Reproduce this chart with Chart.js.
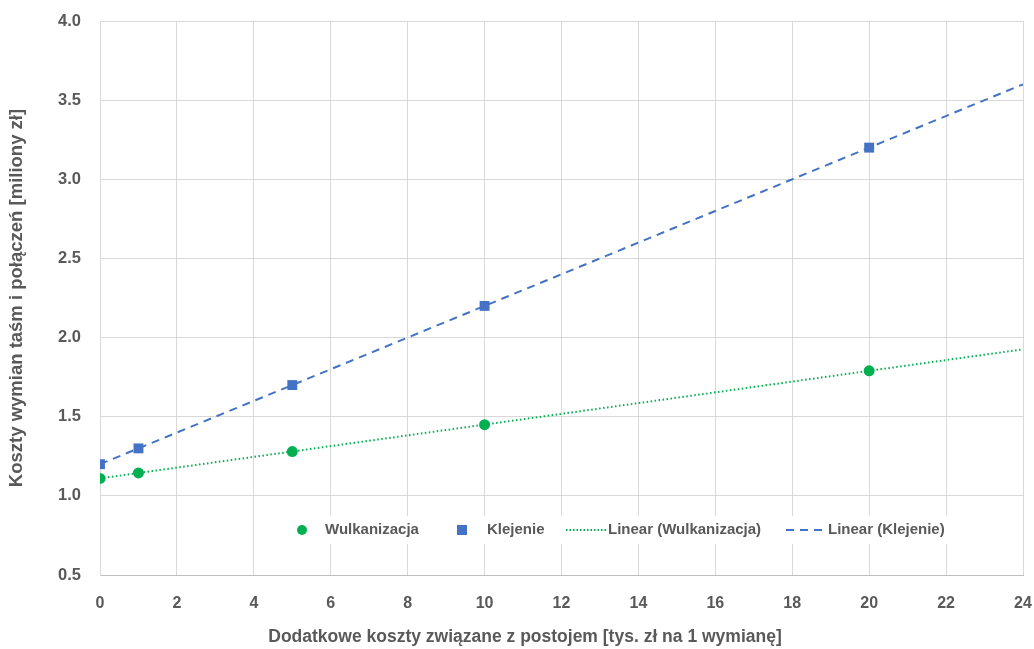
<!DOCTYPE html>
<html>
<head>
<meta charset="utf-8">
<script src="https://cdn.jsdelivr.net/npm/chart.js@4"></script>
<style>
  html, body { margin: 0; padding: 0; background: #fff; }
  #wrap { width: 1034px; height: 649px; }
</style>
</head>
<body>
<div id="wrap"><canvas id="c" width="1034" height="649"></canvas></div>
<script>
// Downtime cost per replacement [thousand zł]
const downtimeCost = [0, 1, 5, 10, 20];
// Total cost of belt and splice replacements [million zł]
const vulcanizing = [1.11, 1.145, 1.28, 1.45, 1.79];
const gluing = [1.2, 1.3, 1.7, 2.2, 3.2];
const xTicks = [0, 2, 4, 6, 8, 10, 12, 14, 16, 18, 20, 22, 24];
const yTicks = [0.5, 1.0, 1.5, 2.0, 2.5, 3.0, 3.5, 4.0];
const xTitle = 'Dodatkowe koszty związane z postojem [tys. zł na 1 wymianę]';
const yTitle = 'Koszty wymian taśm i połączeń [miliony zł]';

const GREEN = '#00B050';
const BLUE = '#4472C4';
const TEXT = '#595959';
const FONT = "'Liberation Sans', Arial, sans-serif";

// least-squares trend line evaluated at the ends of the x axis
function trend(xs, ys, x0, x1) {
  const n = xs.length;
  const mx = xs.reduce((a, b) => a + b, 0) / n;
  const my = ys.reduce((a, b) => a + b, 0) / n;
  let sxy = 0, sxx = 0;
  xs.forEach((x, i) => { sxy += (x - mx) * (ys[i] - my); sxx += (x - mx) * (x - mx); });
  const b = sxy / sxx, a = my - b * mx;
  return [{ x: x0, y: a + b * x0 }, { x: x1, y: a + b * x1 }];
}
const pts = (xs, ys) => xs.map((x, i) => ({ x, y: ys[i] }));

const xMin = xTicks[0], xMax = xTicks[xTicks.length - 1];

// legend drawn inside the plot area, plus the x axis caption centred on the page
const innerLegend = {
  id: 'innerLegend',
  afterDraw(chart) {
    const ctx = chart.ctx;
    const y = 530;
    ctx.save();
    ctx.fillStyle = '#fff';
    ctx.fillRect(287, 516, 672, 28);
    ctx.font = "bold 15px " + FONT;
    ctx.textBaseline = 'middle';
    // circle
    ctx.beginPath(); ctx.arc(302, y, 5, 0, Math.PI * 2); ctx.fillStyle = GREEN; ctx.fill();
    ctx.fillStyle = TEXT; ctx.fillText('Wulkanizacja', 325, y);
    // square
    ctx.fillStyle = BLUE; ctx.fillRect(457, y - 5, 10, 10);
    ctx.fillStyle = TEXT; ctx.fillText('Klejenie', 487, y);
    // dotted line
    ctx.lineWidth = 2;
    ctx.strokeStyle = GREEN; ctx.setLineDash([1.5, 2]);
    ctx.beginPath(); ctx.moveTo(566, y); ctx.lineTo(606, y); ctx.stroke();
    ctx.fillStyle = TEXT; ctx.fillText('Linear (Wulkanizacja)', 608, y);
    // dashed line
    ctx.strokeStyle = BLUE; ctx.setLineDash([8, 6]);
    ctx.beginPath(); ctx.moveTo(786, y); ctx.lineTo(826, y); ctx.stroke();
    ctx.fillStyle = TEXT; ctx.fillText('Linear (Klejenie)', 828, y);
    // x axis caption
    ctx.setLineDash([]);
    ctx.font = "bold 17.5px " + FONT;
    ctx.textAlign = 'center';
    ctx.fillText(xTitle, 525, 637);
    ctx.restore();
  }
};

new Chart(document.getElementById('c'), {
  type: 'scatter',
  data: {
    datasets: [
      { label: 'Wulkanizacja', data: pts(downtimeCost, vulcanizing), pointStyle: 'circle',
        pointRadius: 5.5, backgroundColor: GREEN, borderColor: GREEN, pointBorderWidth: 0, order: 1 },
      { label: 'Klejenie', data: pts(downtimeCost, gluing), pointStyle: 'rect',
        pointRadius: 7, backgroundColor: BLUE, borderColor: BLUE, pointBorderWidth: 0, order: 1 },
      { label: 'Linear (Wulkanizacja)', type: 'line', data: trend(downtimeCost, vulcanizing, xMin, xMax),
        borderColor: GREEN, borderWidth: 2, borderDash: [1.5, 2.5], pointRadius: 0, fill: false, order: 2 },
      { label: 'Linear (Klejenie)', type: 'line', data: trend(downtimeCost, gluing, xMin, xMax),
        borderColor: BLUE, borderWidth: 2, borderDash: [8, 6], pointRadius: 0, fill: false, order: 2 }
    ]
  },
  options: {
    responsive: false,
    animation: false,
    devicePixelRatio: 1,
    layout: { padding: { top: 21, right: 11, left: 0, bottom: 0 } },
    plugins: { legend: { display: false }, tooltip: { enabled: false }, title: { display: false } },
    scales: {
      x: {
        type: 'linear', min: xMin, max: xMax,
        afterBuildTicks: s => { s.ticks = xTicks.map(v => ({ value: v })); },
        afterFit: s => { s.height = 74; s.paddingLeft = 0; s.paddingRight = 0; },
        grid: { color: '#d9d9d9', lineWidth: 1, drawTicks: false },
        border: { color: '#bfbfbf', width: 1 },
        ticks: { color: TEXT, font: { family: FONT, size: 16, weight: 'bold' }, padding: 19 },
        title: { display: false }
      },
      y: {
        type: 'linear', min: yTicks[0], max: yTicks[yTicks.length - 1],
        afterBuildTicks: s => { s.ticks = yTicks.map(v => ({ value: v })); },
        afterFit: s => { s.width = 100; s.paddingTop = 0; s.paddingBottom = 0; },
        grid: { color: '#d9d9d9', lineWidth: 1, drawTicks: false },
        border: { color: '#d9d9d9', width: 1 },
        ticks: { color: TEXT, font: { family: FONT, size: 16.5, weight: 'bold' }, padding: 19,
          callback: v => v.toFixed(1) },
        title: { display: true, text: yTitle,
          color: TEXT, font: { family: FONT, size: 18.5, weight: 'bold' }, padding: { top: 6, bottom: 0 } }
      }
    }
  },
  plugins: [innerLegend]
});
</script>
</body>
</html>
